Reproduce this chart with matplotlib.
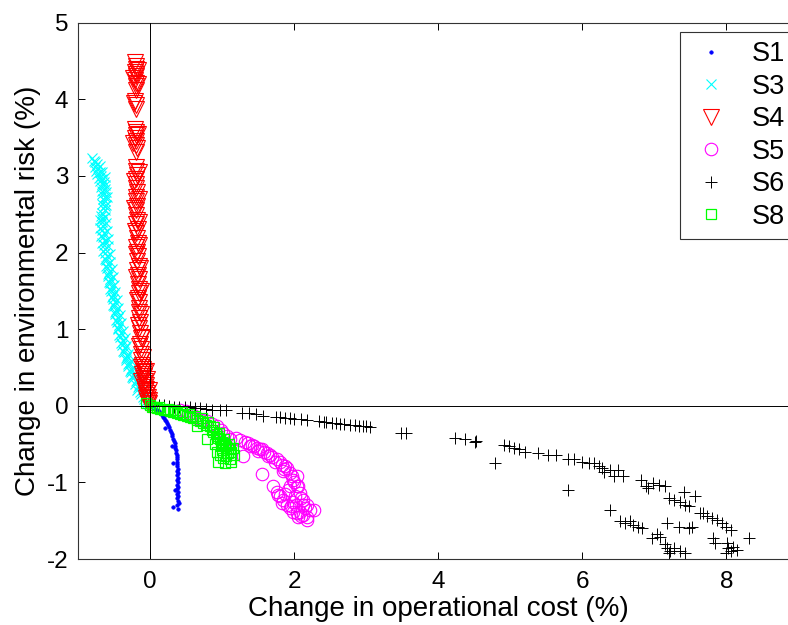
import numpy as np
import matplotlib
matplotlib.use('Agg')
from matplotlib import pyplot as plt

# series values, (x, y) pairs
s1_pts = [(0.00, 0.00), (0.03, -0.01), (0.06, -0.03), (0.09, -0.05), (0.12, -0.07), (0.14, -0.09),
          (0.16, -0.12), (0.18, -0.14), (0.20, -0.16), (0.21, -0.18), (0.22, -0.20), (0.24, -0.23),
          (0.25, -0.25), (0.26, -0.28), (0.28, -0.31), (0.29, -0.34), (0.30, -0.37), (0.31, -0.40),
          (0.32, -0.43), (0.33, -0.46), (0.34, -0.49), (0.35, -0.52), (0.35, -0.55), (0.36, -0.58),
          (0.36, -0.61), (0.37, -0.64), (0.37, -0.67), (0.37, -0.70), (0.38, -0.73), (0.38, -0.76),
          (0.38, -0.79), (0.39, -0.82), (0.38, -0.85), (0.39, -0.88), (0.37, -0.91), (0.39, -0.94),
          (0.38, -0.97), (0.39, -1.00), (0.37, -1.03), (0.39, -1.06), (0.38, -1.09), (0.39, -1.12),
          (0.37, -1.15), (0.39, -1.18), (0.38, -1.21), (0.39, -1.24), (0.40, -1.27), (0.38, -1.30),
          (0.39, -1.35), (0.21, -0.29), (0.30, -0.53), (0.32, -0.75), (0.35, -1.10), (0.32, -1.32)]

s3_pts = [(-0.81, 3.23), (-0.78, 3.20), (-0.76, 3.18), (-0.74, 3.15), (-0.77, 3.12), (-0.72, 3.10),
          (-0.75, 3.07), (-0.70, 3.05), (-0.73, 3.02), (-0.68, 3.00), (-0.71, 2.97), (-0.66, 2.96),
          (-0.69, 2.93), (-0.64, 2.92), (-0.67, 2.89), (-0.62, 2.88), (-0.68, 2.85), (-0.63, 2.83),
          (-0.66, 2.80), (-0.61, 2.79), (-0.67, 2.76), (-0.63, 2.73), (-0.65, 2.70), (-0.62, 2.67),
          (-0.66, 2.64), (-0.63, 2.61), (-0.65, 2.58), (-0.62, 2.55), (-0.67, 2.52), (-0.69, 3.13),
          (-0.66, 3.05), (-0.62, 2.98), (-0.60, 2.72), (-0.61, 2.62),
          (-0.68, 2.48), (-0.66, 2.44), (-0.67, 2.40), (-0.65, 2.35), (-0.66, 2.30), (-0.64, 2.25),
          (-0.65, 2.20), (-0.63, 2.15), (-0.64, 2.10), (-0.62, 2.05), (-0.63, 2.00), (-0.60, 1.95),
          (-0.61, 1.90), (-0.59, 1.85), (-0.60, 1.80), (-0.57, 1.75), (-0.58, 1.70), (-0.55, 1.65),
          (-0.56, 1.60), (-0.53, 1.55), (-0.54, 1.50), (-0.51, 1.45), (-0.52, 1.40), (-0.49, 1.35),
          (-0.50, 1.30), (-0.47, 1.25), (-0.48, 1.20), (-0.45, 1.15), (-0.46, 1.10), (-0.43, 1.05),
          (-0.44, 1.00), (-0.41, 0.95), (-0.42, 0.90), (-0.38, 0.85), (-0.39, 0.80), (-0.35, 0.75),
          (-0.36, 0.70), (-0.32, 0.65), (-0.33, 0.60), (-0.29, 0.56), (-0.30, 0.52), (-0.26, 0.48),
          (-0.27, 0.44), (-0.23, 0.40), (-0.24, 0.36), (-0.20, 0.32), (-0.21, 0.28), (-0.17, 0.25),
          (-0.18, 0.21), (-0.14, 0.18), (-0.12, 0.15), (-0.10, 0.12), (-0.08, 0.09), (-0.06, 0.06),
          (-0.04, 0.04), (-0.02, 0.02),
          (-0.62, 2.46), (-0.61, 2.38), (-0.60, 2.28), (-0.59, 2.18), (-0.58, 2.08), (-0.56, 1.98),
          (-0.55, 1.88), (-0.53, 1.78), (-0.52, 1.68), (-0.50, 1.58), (-0.48, 1.48), (-0.46, 1.38),
          (-0.44, 1.28), (-0.42, 1.18), (-0.40, 1.08), (-0.38, 0.98), (-0.35, 0.88), (-0.33, 0.78),
          (-0.30, 0.68), (-0.27, 0.58), (-0.24, 0.50), (-0.21, 0.42), (-0.18, 0.34), (-0.15, 0.27),
          (-0.11, 0.20),
          (-0.70, 2.42), (-0.69, 2.32), (-0.68, 2.22), (-0.66, 2.12), (-0.65, 2.02), (-0.63, 1.92),
          (-0.61, 1.82), (-0.59, 1.72), (-0.57, 1.62), (-0.55, 1.52), (-0.53, 1.42), (-0.51, 1.32),
          (-0.49, 1.22), (-0.47, 1.12), (-0.45, 1.02), (-0.43, 0.92), (-0.40, 0.82), (-0.37, 0.72),
          (-0.34, 0.62), (-0.31, 0.54), (-0.28, 0.46), (-0.25, 0.38)]

s4_pts = [(-0.21, 4.49), (-0.20, 4.44), (-0.19, 4.40), (-0.21, 4.36), (-0.19, 4.33), (-0.20, 4.30),
          (-0.21, 4.25), (-0.20, 4.21), (-0.19, 4.17), (-0.20, 4.12), (-0.21, 3.98), (-0.19, 3.93),
          (-0.20, 3.88), (-0.21, 3.61), (-0.19, 3.57), (-0.20, 3.53), (-0.21, 3.49), (-0.19, 3.45),
          (-0.20, 3.41), (-0.18, 3.36), (-0.20, 3.31), (-0.19, 3.12), (-0.20, 3.07), (-0.18, 3.01),
          (-0.20, 2.96), (-0.19, 2.90), (-0.20, 2.84), (-0.18, 2.79), (-0.19, 2.73), (-0.20, 2.67),
          (-0.18, 2.61), (-0.19, 2.55), (-0.20, 2.49), (-0.18, 2.43), (-0.19, 2.37), (-0.17, 2.31),
          (-0.19, 2.25), (-0.18, 2.19), (-0.17, 2.13), (-0.19, 2.07), (-0.18, 2.01), (-0.17, 1.95),
          (-0.18, 1.89), (-0.16, 1.83), (-0.18, 1.77), (-0.17, 1.71), (-0.16, 1.65), (-0.17, 1.59),
          (-0.16, 1.53), (-0.15, 1.47), (-0.17, 1.41), (-0.16, 1.35), (-0.15, 1.28), (-0.16, 1.22),
          (-0.15, 1.15), (-0.14, 1.09), (-0.15, 1.02), (-0.14, 0.95), (-0.13, 0.88), (-0.14, 0.81),
          (-0.13, 0.74), (-0.12, 0.67), (-0.12, 0.60), (-0.11, 0.53), (-0.10, 0.48), (-0.09, 0.44),
          (-0.11, 0.42), (-0.08, 0.39), (-0.10, 0.36), (-0.07, 0.33), (-0.09, 0.30), (-0.06, 0.27),
          (-0.08, 0.25), (-0.05, 0.22), (-0.07, 0.19), (-0.04, 0.17), (-0.06, 0.14), (-0.03, 0.12),
          (-0.05, 0.10), (-0.02, 0.08), (-0.04, 0.06), (-0.01, 0.04), (-0.03, 0.03),
          (-0.17, 4.38), (-0.23, 4.28), (-0.17, 4.20), (-0.22, 3.95), (-0.17, 3.55), (-0.23, 3.43),
          (-0.16, 3.05), (-0.22, 2.93), (-0.16, 2.70), (-0.22, 2.58), (-0.15, 2.40), (-0.21, 2.28),
          (-0.15, 2.10), (-0.20, 1.98), (-0.14, 1.80), (-0.19, 1.68), (-0.13, 1.50), (-0.18, 1.38),
          (-0.12, 1.20), (-0.17, 1.05), (-0.11, 0.90), (-0.15, 0.78), (-0.10, 0.64), (-0.12, 0.50),
          (-0.06, 0.45), (-0.04, 0.35), (-0.02, 0.20), (-0.12, 0.32)]

s5_pts = [(0.42, -0.05), (0.50, -0.07), (0.56, -0.09), (0.60, -0.12), (0.65, -0.16), (0.72, -0.18),
          (0.79, -0.20), (0.86, -0.24), (0.93, -0.27), (0.98, -0.31), (1.02, -0.36), (1.07, -0.40),
          (1.11, -0.44), (1.20, -0.42), (1.29, -0.66), (1.32, -0.47), (1.36, -0.49), (1.41, -0.51),
          (1.45, -0.53), (1.48, -0.55), (1.52, -0.56), (1.55, -0.57), (1.58, -0.60), (1.62, -0.62),
          (1.67, -0.64), (1.70, -0.67), (1.76, -0.70), (1.80, -0.74), (1.83, -0.77), (1.87, -0.79),
          (1.90, -0.81), (1.94, -0.88), (1.97, -0.92), (1.99, -0.97), (2.04, -0.92), (2.06, -1.05),
          (2.04, -1.05), (1.56, -0.89), (1.71, -1.05), (1.76, -1.12), (1.81, -1.18), (1.85, -1.23),
          (1.90, -1.29), (1.94, -1.34), (1.99, -1.38), (2.04, -1.40), (2.08, -1.38), (2.13, -1.42),
          (2.18, -1.45), (2.22, -1.36), (2.08, -1.14), (2.13, -1.23), (2.18, -1.29), (2.10, -1.20),
          (1.98, -1.25), (1.88, -1.15), (2.02, -1.30), (2.15, -1.33), (1.92, -1.10), (2.18, -1.49),
          (2.27, -1.36), (2.05, -1.45), (1.95, -1.05), (1.85, -0.85), (2.00, -1.00),
          (1.25, -0.45), (1.39, -0.53), (1.50, -0.59), (1.64, -0.66), (1.73, -0.73), (1.86, -0.82),
          (1.78, -1.16), (1.83, -1.27), (1.96, -1.31), (2.10, -1.44), (2.01, -1.18), (2.12, -1.30)]

s6_pts = [(0.12, 0.01), (0.19, 0.01), (0.26, 0.00), (0.33, -0.01), (0.40, -0.01), (0.48, -0.02),
          (0.55, -0.02), (0.62, -0.03), (0.70, -0.03), (0.78, -0.04), (0.86, -0.05), (0.97, -0.05),
          (1.05, -0.06), (1.27, -0.09), (1.37, -0.10), (1.47, -0.11), (1.57, -0.13), (1.75, -0.14),
          (1.80, -0.15), (1.88, -0.16), (1.94, -0.16), (2.00, -0.17), (2.10, -0.17), (2.18, -0.18),
          (2.35, -0.20), (2.42, -0.21), (2.45, -0.21), (2.52, -0.22), (2.58, -0.23), (2.64, -0.24),
          (2.70, -0.24), (2.78, -0.25), (2.85, -0.25), (2.90, -0.26), (2.95, -0.26), (3.00, -0.27),
          (3.06, -0.28), (3.48, -0.36), (3.55, -0.36), (4.24, -0.42), (4.38, -0.44), (4.51, -0.47),
          (4.53, -0.46), (4.91, -0.51), (4.98, -0.53), (5.05, -0.55), (5.12, -0.57), (5.21, -0.60),
          (4.79, -0.75), (5.39, -0.62), (5.53, -0.64), (5.63, -0.64), (5.81, -0.70), (5.88, -0.70),
          (6.00, -0.73), (6.09, -0.75), (6.16, -0.75), (6.23, -0.79), (6.27, -0.81), (6.30, -0.86),
          (6.39, -0.84), (6.44, -0.92), (6.50, -0.84), (6.57, -0.92), (5.81, -1.10), (6.81, -0.97),
          (6.88, -1.05), (6.92, -1.07), (6.99, -1.01), (7.06, -1.03), (7.15, -1.05), (7.20, -1.20),
          (7.27, -1.23), (7.36, -1.25), (7.41, -1.12), (7.43, -1.29), (7.48, -1.31), (7.57, -1.18),
          (7.64, -1.40), (7.68, -1.40), (7.73, -1.44), (7.80, -1.47), (7.87, -1.49), (7.94, -1.53),
          (7.99, -1.58), (8.06, -1.62), (7.82, -1.73), (7.85, -1.79), (8.01, -1.79), (8.03, -1.86),
          (8.06, -1.90), (7.99, -1.92), (8.10, -1.84), (8.15, -1.88), (8.31, -1.73), (6.39, -1.36),
          (6.53, -1.51), (6.60, -1.53), (6.67, -1.51), (6.71, -1.55), (6.78, -1.58), (6.83, -1.60),
          (7.18, -1.53), (7.34, -1.58), (7.48, -1.60), (7.52, -1.58), (6.97, -1.73), (7.04, -1.68),
          (7.08, -1.71), (7.15, -1.81), (7.18, -1.86), (7.22, -1.90), (7.27, -1.86), (7.36, -1.90),
          (7.43, -1.92), (7.20, -1.92)]

s8_pts = [(-0.05, 0.03), (0.00, 0.01), (0.03, -0.01), (0.06, -0.02), (0.09, -0.03), (0.14, -0.04),
          (0.19, -0.05), (0.23, -0.06), (0.28, -0.07), (0.32, -0.08), (0.37, -0.10), (0.41, -0.11),
          (0.46, -0.12), (0.51, -0.13), (0.56, -0.14), (0.60, -0.16), (0.65, -0.18), (0.70, -0.20),
          (0.74, -0.23), (0.78, -0.25), (0.83, -0.27), (0.86, -0.31), (0.88, -0.34), (0.91, -0.37),
          (0.93, -0.40), (0.95, -0.42), (0.97, -0.44), (1.00, -0.47), (1.02, -0.49), (1.04, -0.51),
          (1.06, -0.53), (1.08, -0.55), (1.11, -0.57), (0.93, -0.60), (0.97, -0.64), (1.02, -0.68),
          (1.06, -0.66), (1.11, -0.70), (1.16, -0.64), (0.79, -0.44), (0.65, -0.27), (0.95, -0.73),
          (1.04, -0.75), (1.13, -0.73), (1.00, -0.58), (1.08, -0.62), (0.98, -0.52), (1.13, -0.60),
          (0.90, -0.50), (0.12, -0.02), (0.25, -0.04), (0.35, -0.06), (0.44, -0.08), (0.54, -0.11),
          (0.63, -0.13), (0.72, -0.16), (0.81, -0.21), (0.89, -0.28), (0.96, -0.36), (1.03, -0.44),
          (1.10, -0.50), (1.15, -0.55)]

labels = ['S1', 'S3', 'S4', 'S5', 'S6', 'S8']
xticks = [0, 2, 4, 6, 8]
yticks = [-2, -1, 0, 1, 2, 3, 4, 5]

plt.rcParams['font.family'] = ['Liberation Sans', 'DejaVu Sans']
plt.rcParams['axes.unicode_minus'] = False

fig = plt.figure(figsize=(7.88, 6.25), dpi=100)
# the axes run past the right edge of the picture, as in the original
ax = fig.add_axes([0.099, 0.1056, 0.914, 0.858])

styles = [
    dict(marker='.', color='#0000ff', ms=5, mew=0.5),
    dict(marker='x', color='#00ffff', ms=6.5, mew=0.8),
    dict(marker='v', color='#ff0000', ms=11, mew=0.8, mfc='none'),
    dict(marker='o', color='#ff00ff', ms=9, mew=0.8, mfc='none'),
    dict(marker='+', color='k', ms=9, mew=0.7),
    dict(marker='s', color='#00ff00', ms=7.5, mew=0.9, mfc='none'),
]
series = [s1_pts, s3_pts, s4_pts, s5_pts, s6_pts, s8_pts]
for pts, lab, st in zip(series, labels, styles):
    p = np.array(pts)
    ax.plot(p[:, 0], p[:, 1], linestyle='none', label=lab, **st)

ax.axhline(0, color='k', lw=0.7, zorder=3)
ax.axvline(0, color='k', lw=0.7, zorder=3)

ax.set_xlim(-1, 9)
ax.set_ylim(-2, 5)
ax.set_xticks(xticks)
ax.set_yticks(yticks)
ax.tick_params(direction='in', top=True, right=True, length=5, width=0.7, labelsize=17.5)
ax.tick_params(axis='x', pad=9)
ax.tick_params(axis='y', pad=7)
for s in ax.spines.values():
    s.set_linewidth(0.8)
    s.set_color('#333333')

ax.set_xlabel('Change in operational cost (%)', fontsize=20, labelpad=2)
ax.set_ylabel('Change in environmental risk (%)', fontsize=20, labelpad=4)

leg = ax.legend(loc='upper right', bbox_to_anchor=(0.995, 0.983), fontsize=19.5, fancybox=False,
                edgecolor='#333333', framealpha=1, borderaxespad=0, handletextpad=0.7,
                labelspacing=0.24, handlelength=1.6, borderpad=0.35)
leg.get_frame().set_linewidth(0.8)

fig.savefig('out.png', dpi=100)
